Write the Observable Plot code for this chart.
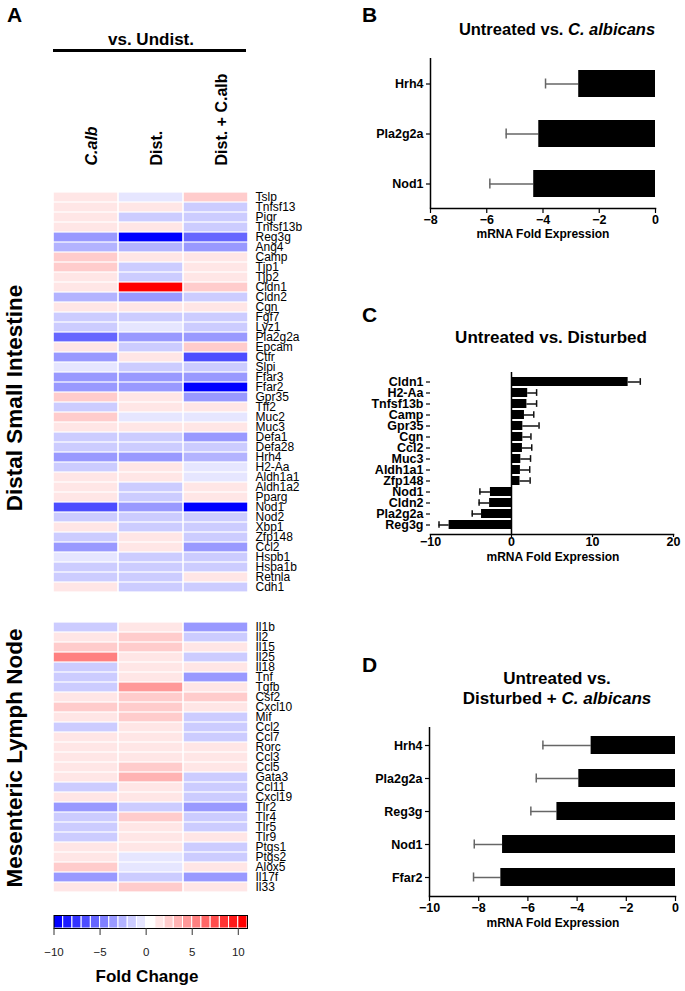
<!DOCTYPE html>
<html><head><meta charset="utf-8">
<script src="https://cdn.jsdelivr.net/npm/d3@7"></script>
<script src="https://cdn.jsdelivr.net/npm/@observablehq/plot@0.6"></script>
<style>
body{margin:0;background:#fff;}
#root{position:relative;width:685px;height:991px;overflow:hidden;font-family:"Liberation Sans",Arial,sans-serif;color:#000;background:#fff;}
.t{position:absolute;white-space:nowrap;line-height:1;font-weight:bold;}
</style></head><body><div id="root"></div>
<script>
// ---------- Panel A data ----------
const columns = ["C.alb", "Dist.", "Dist. + C.alb"];
const siGenes = ["Tslp","Tnfsf13","Pigr","Tnfsf13b","Reg3g","Ang4","Camp","Tjp1","Tjp2","Cldn1","Cldn2","Cgn","Fgf7","Lyz1","Pla2g2a","Epcam","Ctfr","Slpi","Ffar3","Ffar2","Gpr35","Tff2","Muc2","Muc3","Defa1","Defa28","Hrh4","H2-Aa","Aldh1a1","Aldh1a2","Pparg","Nod1","Nod2","Xbp1","Zfp148","Ccl2","Hspb1","Hspa1b","Retnla","Cdh1"];
const siCalb =     [1.5,1.5,1.5,1.5,-3.5,-2.5,2.5,2.5,1.5,1.5,-2.5,1.5,-1.5,-1.5,-5.5,1.5,-3.5,-0.5,-3.5,-3.5,2.5,-1.5,2.5,1.5,-1.5,-1.5,-3.5,-1.5,1.5,1.5,1.5,-6.5,-1.5,1.5,-1.5,-3.5,-0.5,-1.5,-1.5,1.5];
const siDist =     [-0.5,1.5,-1.5,1.5,-9.5,-2.5,1.5,-1.5,-1.5,10.5,-3.5,1.5,-1.5,-0.5,-3.5,-1.5,1.5,-1.5,-3.5,-3.5,1.5,1.5,-0.5,1.5,-1.5,-1.5,-3.5,1.5,1.5,-1.5,-1.5,-3.5,-1.5,-1.5,1.5,1.5,-1.5,-1.5,-1.5,-1.5];
const siDistCalb = [2.5,-1.5,-1.5,-1.5,-5.5,-3.5,1.5,1.5,1.5,2.5,-1.5,1.5,-1.5,-1.5,-3.5,2.5,-6.5,-1.5,-3.5,-9.5,-3.5,1.5,-0.5,1.5,-3.5,-1.5,-2.5,-0.5,-0.5,1.5,1.5,-9.5,-1.5,-1.5,-1.5,-3.5,-1.5,-1.5,1.5,-1.5];
const mlnGenes = ["Il1b","Il2","Il15","Il25","Il18","Tnf","Tgfb","Csf2","Cxcl10","Mif","Ccl2","Ccl7","Rorc","Ccl3","Ccl5","Gata3","Ccl11","Cxcl19","Tlr2","Tlr4","Tlr5","Tlr9","Ptgs1","Ptgs2","Alox5","Il17f","Il33"];
const mlnCalb =     [-1.5,1.5,2.5,5.5,-1.5,-1.5,-1.5,1.5,2.5,1.5,-1.5,1.5,1.5,1.5,1.5,1.5,-1.5,1.5,-3.5,-1.5,-1.5,-1.5,1.5,1.5,2.5,-3.5,1.5];
const mlnDist =     [1.5,2.5,2.5,1.5,1.5,1.5,4.5,2.5,2.5,2.5,1.5,1.5,1.5,1.5,2.5,3.5,1.5,1.5,-1.5,2.5,1.5,1.5,1.5,-0.5,-0.5,-1.5,2.5];
const mlnDistCalb = [-3.5,-1.5,1.5,-1.5,1.5,-3.5,1.5,2.5,1.5,-1.5,-1.5,-1.5,1.5,1.5,1.5,-1.5,-1.5,-1.5,-3.5,-1.5,-1.5,1.5,-1.5,-1.5,1.5,-3.5,1.5];
const legendBins = [-10,-9,-8,-7,-6,-5,-4,-3,-2,-1,0,1,2,3,4,5,6,7,8,9,10];
const legendTicks = [-10,-5,0,5,10];

// ---------- Panel B/C/D data ----------
const bGenes = ["Hrh4","Pla2g2a","Nod1"];
const bVals  = [-2.73,-4.15,-4.33];
const bSem   = [1.18,1.16,1.56];
const bTicks = [-8,-6,-4,-2,0];
const cGenes = ["Cldn1","H2-Aa","Tnfsf13b","Camp","Gpr35","Cgn","Ccl2","Muc3","Aldh1a1","Zfp148","Nod1","Cldn2","Pla2g2a","Reg3g"];
const cVals  = [14.4,2.0,1.9,1.6,1.4,1.4,1.35,1.15,1.1,1.05,-2.6,-2.7,-3.7,-7.7];
const cSem   = [1.5,1.1,1.2,1.15,2.0,1.0,1.15,1.2,1.15,1.25,1.3,1.3,1.15,1.25];
const cTicks = [-10,0,10,20];
const dGenes = ["Hrh4","Pla2g2a","Reg3g","Nod1","Ffar2"];
const dVals  = [-3.43,-3.93,-4.82,-7.03,-7.1];
const dSem   = [1.96,1.73,1.06,1.15,1.11];
const dTicks = [-10,-8,-6,-4,-2,0];

// ---------- helpers ----------
const FONT = '"Liberation Sans", Arial, sans-serif';
const root = document.getElementById("root");
function place(el, left, top) {
  el.style.position = "absolute"; el.style.left = left + "px"; el.style.top = top + "px";
  root.appendChild(el); return el;
}
function txt(html, left, top, size, extra = "") {
  const d = document.createElement("div");
  d.className = "t"; d.innerHTML = html;
  d.style.cssText += `font-size:${size}px;${extra}`;
  return place(d, left, top);
}
function centered(html, cx, top, size, w = 300, extra = "") {
  return txt(html, cx - w / 2, top, size, `width:${w}px;text-align:center;${extra}`);
}
function vertical(html, cx, cy, size) {
  return txt(html, cx, cy, size, "transform:translate(-50%,-50%) rotate(-90deg);");
}

// discrete blue-white-red scale (21 bins of width 1)
const palette = [];
for (let i = 0; i < 10; i++) { const f = Math.round(255 * i / 10); palette.push(`rgb(${f},${f},255)`); }
palette.push("rgb(255,255,255)");
for (let i = 9; i >= 0; i--) { const f = Math.round(255 * i / 10); palette.push(`rgb(255,${f},${f})`); }
const colorScale = {type: "threshold", domain: legendBins.slice(1), range: palette};

// ---------- Panel A ----------
txt("A", 7, 4, 21);
centered("vs. Undist.", 151, 31, 17, 200);
const line = document.createElement("div");
line.style.cssText = "width:193px;height:2.5px;background:#000;";
place(line, 53, 49);

function heat(genes, cols, top, header, rowH) {
  const data = [];
  genes.forEach((g, i) => columns.forEach((c, j) => data.push({gene: g, col: c, v: cols[j][i]})));
  const mt = header ? 126 : 0;
  const svg = Plot.plot({
    width: 320, height: mt + genes.length * rowH,
    marginLeft: 53, marginRight: 72, marginTop: mt, marginBottom: 0,
    style: {fontFamily: FONT, color: "#000", background: "transparent", overflow: "visible"},
    x: {domain: columns, padding: 0, axis: null},
    y: {domain: genes, padding: 0, axis: null},
    color: colorScale,
    marks: [
      Plot.cell(data, {x: "col", y: "gene", fill: "v", insetLeft: 0.8, insetRight: 0.8, insetTop: 0.6, insetBottom: 0.6}),
      Plot.axisY({anchor: "right", tickSize: 0, tickPadding: 7, fontSize: 12, label: null}),
      header ? Plot.text(columns.slice(0, 1), {x: d => d, frameAnchor: "top", rotate: -90, textAnchor: "start", dy: -16, fontSize: 16, fontWeight: "bold", fontStyle: "italic"}) : null,
      header ? Plot.text(columns.slice(1), {x: d => d, frameAnchor: "top", rotate: -90, textAnchor: "start", dy: -16, fontSize: 16, fontWeight: "bold"}) : null
    ]
  });
  return place(svg, 0, top);
}
heat(siGenes, [siCalb, siDist, siDistCalb], 55, true, 10.55);
heat(mlnGenes, [mlnCalb, mlnDist, mlnDistCalb], 615, false, 10.55);
vertical("Distal Small Intestine", 15, 398, 22.5);
vertical("Mesenteric Lymph Node", 15, 758, 22.5);

// colour bar
const cb = Plot.plot({
  width: 300, height: 85, marginLeft: 53.5, marginRight: 53, marginTop: 10, marginBottom: 62,
  style: {fontFamily: FONT, color: "#000", background: "transparent", overflow: "visible"},
  x: {domain: [-10, 11]},
  color: colorScale,
  marks: [
    Plot.rect(legendBins, {x1: d => d, x2: d => d + 1, fill: d => d + 0.5, stroke: "white", strokeWidth: 1}),
    Plot.frame({stroke: "black", strokeWidth: 1}),
    Plot.axisX({ticks: legendTicks, tickSize: 7, tickPadding: 12, fontSize: 11.5, label: null, stroke: "#333", fill: "#222"})
  ]
});
place(cb, 0, 905);
centered("Fold Change", 147, 968, 17, 200);

// ---------- Bar panels ----------
function barPanel({genes, vals, sem, domain, ticks, left, top, width, height, mL, mR, mT, mB, pad, errColor, capH, axisAt, fs, xTickSize, xTickPad}) {
  const data = genes.map((g, i) => ({g, v: vals[i], e: vals[i] + Math.sign(vals[i]) * sem[i]}));
  const bandH = (height - mT - mB) / genes.length * (1 - pad);
  const capInset = Math.max(0, (bandH - capH) / 2);
  const svg = Plot.plot({
    width, height, marginLeft: mL, marginRight: mR, marginTop: mT, marginBottom: mB,
    style: {fontFamily: FONT, color: "#000", background: "transparent", overflow: "visible"},
    x: {domain, axis: null},
    y: {domain: genes, paddingInner: pad, paddingOuter: pad / 2, axis: null},
    marks: [
      Plot.ruleY(data, {y: "g", x1: "v", x2: "e", stroke: errColor, strokeWidth: 1.5}),
      Plot.tickX(data, {y: "g", x: "e", stroke: errColor, strokeWidth: 1.5, insetTop: capInset, insetBottom: capInset}),
      Plot.barX(data, {y: "g", x: "v", fill: "black"}),
      Plot.ruleX([axisAt], {stroke: "black", strokeWidth: 1.5}),
      Plot.frame({anchor: "bottom", stroke: "black", strokeWidth: 1.5}),
      Plot.axisY({tickSize: 4, tickPadding: 3, fontSize: fs, fontWeight: "bold", label: null, strokeWidth: 1.2}),
      Plot.axisX({ticks, tickSize: xTickSize, tickPadding: xTickPad, fontSize: fs, fontWeight: "bold", label: null, strokeWidth: 1.2})
    ]
  });
  return place(svg, left, top);
}

// B
txt("B", 362, 4, 21);
centered("Untreated vs. <i>C. albicans</i>", 557, 21, 16.5, 320);
barPanel({genes: bGenes, vals: bVals, sem: bSem, domain: [-8, 0], ticks: bTicks,
  left: 360, top: 0, width: 325, height: 245, mL: 70, mR: 30, mT: 58, mB: 37,
  pad: 0.46, errColor: "#666", capH: 10, axisAt: -8, fs: 12.5, xTickSize: 5, xTickPad: 2});
centered("mRNA Fold Expression", 543, 228, 12, 200);

// C
txt("C", 362, 304, 21);
centered("Untreated vs. Disturbed", 551, 329, 17, 320);
barPanel({genes: cGenes, vals: cVals, sem: cSem, domain: [-10, 20], ticks: cTicks,
  left: 360, top: 300, width: 325, height: 265, mL: 70, mR: 12, mT: 72, mB: 31,
  pad: 0.2, errColor: "#111", capH: 7, axisAt: 0, fs: 12.5, xTickSize: 3, xTickPad: 0});
centered("mRNA Fold Expression", 553, 551, 12, 200);

// D
txt("D", 362, 654, 21);
centered("Untreated vs.<br>Disturbed + <i>C. albicans</i>", 557, 669, 17, 320, "line-height:20px;");
barPanel({genes: dGenes, vals: dVals, sem: dSem, domain: [-10, 0], ticks: dTicks,
  left: 360, top: 640, width: 325, height: 290, mL: 69, mR: 10, mT: 87, mB: 34,
  pad: 0.44, errColor: "#666", capH: 10, axisAt: -10, fs: 12.5, xTickSize: 5, xTickPad: 2});
centered("mRNA Fold Expression", 553, 917, 12, 200);
</script></body></html>
